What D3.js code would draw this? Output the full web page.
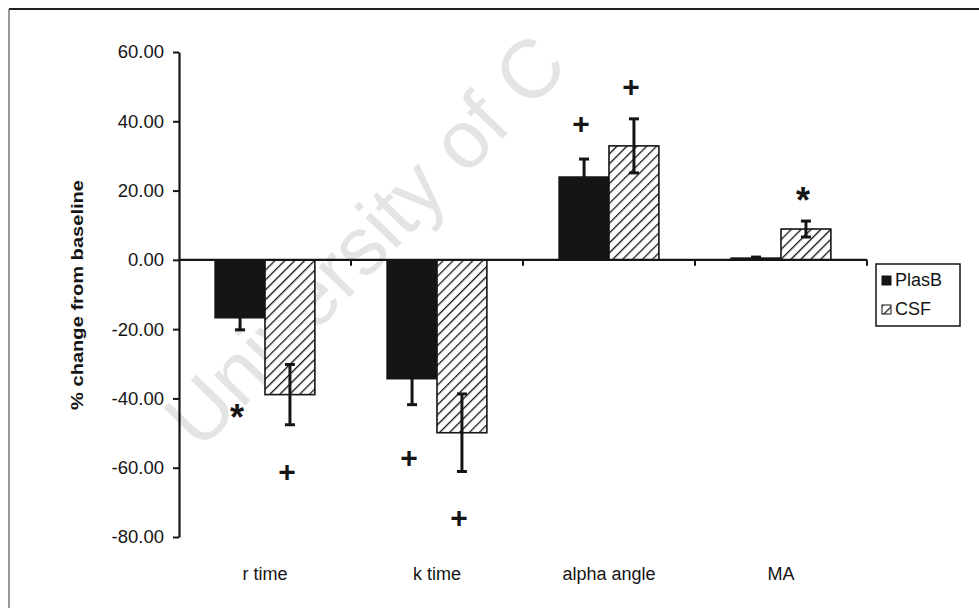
<!DOCTYPE html>
<html>
<head>
<meta charset="utf-8">
<script src="https://cdn.jsdelivr.net/npm/d3@7"></script>
<style>
  html, body { margin: 0; padding: 0; background: #fff; }
  svg { display: block; font-family: Arial, "Liberation Sans", sans-serif; }
</style>
</head>
<body>
<svg id="chart" width="979" height="608"></svg>
<script>
// categories and series
const categories = ["r time", "k time", "alpha angle", "MA"];
const seriesNames = ["PlasB", "CSF"];
const plasbValues = [-16.7, -34.3, 23.9, 0.5];
const plasbErrors = [3.5, 7.5, 5.2, 0.3];
const csfValues = [-38.9, -49.9, 32.9, 8.9];
const csfErrors = [8.7, 11.2, 7.8, 2.3];
const yTicks = [-80, -60, -40, -20, 0, 20, 40, 60];

// significance markers (category, series, y value, symbol)
const markCats = ["r time", "r time", "k time", "k time", "alpha angle", "alpha angle", "MA"];
const markSeries = ["PlasB", "CSF", "PlasB", "CSF", "PlasB", "CSF", "CSF"];
const markValues = [-44.0, -60.9, -57.1, -74.4, 39.5, 50.2, 18.7];
const markSymbols = ["*", "+", "+", "+", "+", "+", "*"];

const ink = "#151515";
const svg = d3.select("#chart");

const defs = svg.append("defs");
const hatch = defs.append("pattern")
  .attr("id", "hatch")
  .attr("patternUnits", "userSpaceOnUse")
  .attr("width", 7).attr("height", 7)
  .attr("patternTransform", "rotate(45)");
hatch.append("rect").attr("width", 7).attr("height", 7).attr("fill", "#fff");
hatch.append("line")
  .attr("x1", 0).attr("y1", 0).attr("x2", 0).attr("y2", 7)
  .attr("stroke", ink).attr("stroke-width", 2.6);

const fills = { PlasB: ink, CSF: "url(#hatch)" };

// outer frame (scan edge)
svg.append("line").attr("x1", 9).attr("y1", 9).attr("x2", 979).attr("y2", 9)
  .attr("stroke", "#222").attr("stroke-width", 2);
svg.append("line").attr("x1", 9).attr("y1", 9).attr("x2", 9).attr("y2", 608)
  .attr("stroke", "#555").attr("stroke-width", 1.2);

// watermark
svg.append("text")
  .attr("transform", "translate(200,452) rotate(-46)")
  .attr("font-size", 82)
  .attr("fill", "#e4e4e4")
  .text("University of C");

const y = d3.scaleLinear().domain([-80, 60]).range([537, 52]);
const x = d3.scaleBand().domain(categories).range([179, 867])
  .paddingInner(0.42).paddingOuter(0.21);
const xs = d3.scaleBand().domain(seriesNames).range([0, x.bandwidth()]);

const rows = [];
categories.forEach((c, i) => {
  rows.push({ cat: c, series: "PlasB", value: plasbValues[i], err: plasbErrors[i] });
  rows.push({ cat: c, series: "CSF", value: csfValues[i], err: csfErrors[i] });
});

// bars
svg.append("g").selectAll("rect")
  .data(rows)
  .join("rect")
  .attr("x", d => x(d.cat) + xs(d.series))
  .attr("width", xs.bandwidth())
  .attr("y", d => y(Math.max(0, d.value)))
  .attr("height", d => Math.abs(y(d.value) - y(0)))
  .attr("fill", d => fills[d.series])
  .attr("stroke", ink)
  .attr("stroke-width", 1.6);

// error bars
const eb = svg.append("g").attr("stroke", ink).attr("stroke-width", 3);
const cx = d => x(d.cat) + xs(d.series) + xs.bandwidth() / 2;
eb.selectAll("line.v").data(rows).join("line").attr("class", "v")
  .attr("x1", cx).attr("x2", cx)
  .attr("y1", d => y(d.value - d.err)).attr("y2", d => y(d.value + d.err));
eb.selectAll("line.lo").data(rows).join("line").attr("class", "lo")
  .attr("x1", d => cx(d) - 5).attr("x2", d => cx(d) + 5)
  .attr("y1", d => y(d.value - d.err)).attr("y2", d => y(d.value - d.err));
eb.selectAll("line.hi").data(rows).join("line").attr("class", "hi")
  .attr("x1", d => cx(d) - 5).attr("x2", d => cx(d) + 5)
  .attr("y1", d => y(d.value + d.err)).attr("y2", d => y(d.value + d.err));

// y axis
const yAxis = svg.append("g")
  .attr("transform", "translate(179,0)")
  .call(d3.axisLeft(y).tickValues(yTicks).tickSize(6).tickSizeOuter(0)
    .tickFormat(d => d.toFixed(2)));
yAxis.select(".domain").attr("stroke", ink).attr("stroke-width", 2.2);
yAxis.selectAll(".tick line").attr("stroke", ink).attr("stroke-width", 2);
yAxis.selectAll(".tick text")
  .attr("x", -15)
  .attr("font-size", 18.5)
  .attr("font-family", "Arial, 'Liberation Sans', sans-serif")
  .attr("fill", ink);

// zero line with category separator ticks
const bounds = categories.map(c => x(c) + x.bandwidth() / 2 + x.step() / 2);
svg.append("line")
  .attr("x1", 179).attr("x2", d3.max(bounds))
  .attr("y1", y(0)).attr("y2", y(0))
  .attr("stroke", ink).attr("stroke-width", 2.2);
svg.append("g").selectAll("line")
  .data(bounds)
  .join("line")
  .attr("x1", d => d).attr("x2", d => d)
  .attr("y1", y(0)).attr("y2", y(0) + 6)
  .attr("stroke", ink).attr("stroke-width", 2);

// category labels
const xAxis = svg.append("g")
  .attr("transform", "translate(0,564)")
  .call(d3.axisBottom(x).tickSize(0));
xAxis.select(".domain").remove();
xAxis.selectAll(".tick text")
  .attr("font-size", 18)
  .attr("font-family", "Arial, 'Liberation Sans', sans-serif")
  .attr("fill", ink);

// y label
svg.append("text")
  .attr("transform", "translate(83,295) rotate(-90)")
  .attr("text-anchor", "middle")
  .attr("font-size", 16)
  .attr("font-weight", "bold")
  .attr("textLength", 230)
  .attr("lengthAdjust", "spacingAndGlyphs")
  .attr("fill", ink)
  .text("% change from baseline");

// significance marks
svg.append("g").selectAll("text")
  .data(markCats.map((c, i) => ({ cat: c, series: markSeries[i], value: markValues[i], sym: markSymbols[i] })))
  .join("text")
  .attr("x", d => x(d.cat) + xs(d.series) + xs.bandwidth() / 2 - 3)
  .attr("y", d => y(d.value))
  .attr("dy", d => d.sym === "*" ? "0.5em" : "0.36em")
  .attr("text-anchor", "middle")
  .attr("font-size", d => d.sym === "*" ? 36 : 30)
  .attr("font-weight", "bold")
  .attr("fill", ink)
  .text(d => d.sym);

// legend
const legend = svg.append("g").attr("transform", "translate(876,264)");
legend.append("rect").attr("width", 84).attr("height", 62)
  .attr("fill", "#fff").attr("stroke", ink).attr("stroke-width", 1.5);
const li = legend.selectAll("g.item").data(seriesNames).join("g")
  .attr("class", "item")
  .attr("transform", (d, i) => `translate(6,${12 + i * 29})`);
li.append("rect").attr("width", 9).attr("height", 9)
  .attr("fill", d => fills[d]).attr("stroke", ink).attr("stroke-width", 1);
li.append("text").attr("x", 13).attr("y", 9.5)
  .attr("font-size", 18).attr("fill", ink)
  .text(d => d);
</script>
</body>
</html>
